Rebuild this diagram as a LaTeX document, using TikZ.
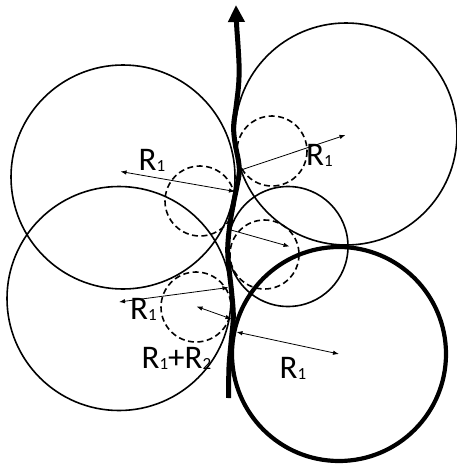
\documentclass[tikz,border=0pt]{standalone}
\usepackage{fontspec}
\setmainfont{Carlito}
\usetikzlibrary{arrows.meta}
\newcommand\lsub[1]{\raisebox{-0.04em}{\fontsize{17}{17}\selectfont #1}}
\tikzset{
  thincirc/.style={line width=1.6pt},
  thickcirc/.style={line width=4.2pt},
  dashcirc/.style={line width=1.6pt, dash pattern=on 6pt off 3.5pt},
  thickpath/.style={line width=5pt},
  radarrow/.style={line width=0.8pt},
  tip/.tip={Latex[length=6pt,width=4.5pt]},
  lbl/.style={anchor=base west, inner sep=0pt, font=\fontsize{33}{33}\selectfont}
}
\begin{document}
\begin{tikzpicture}[x=1pt,y=-1pt]
\useasboundingbox (0,0) rectangle (456,466);
% centres
\coordinate (cUL) at (123,177);
\coordinate (cLL) at (119,298.5);
\coordinate (cTR) at (346,134);
\coordinate (cMid) at (288,246.5);
\coordinate (cTh) at (339,354);
\coordinate (dA) at (272,151);
\coordinate (dB) at (200,201);
\coordinate (dC) at (264.5,254.5);
\coordinate (dD) at (196,307);
% big circles
\draw[thincirc] (cUL) circle[radius=112];
\draw[thincirc] (cLL) circle[radius=112];
\draw[thincirc] (cTR) circle[radius=111];
\draw[thincirc] (cMid) circle[radius=60];
\draw[thickcirc] (cTh) circle[radius=107];
% dashed circles
\draw[dashcirc] (dA) circle[radius=35];
\draw[dashcirc] (dB) circle[radius=35];
\draw[dashcirc] (dC) circle[radius=34.5];
\draw[dashcirc] (dD) circle[radius=35];
% thick path
\draw[thickpath, -{Triangle[length=17pt,width=16pt]}] plot[smooth, tension=0.55] coordinates {
 (228.5,398) (229,367) (231,343) (233.3,317) (231.7,293) (228.6,265) (227.7,250)
 (228.5,236) (230.5,220) (233.5,203) (236.8,187) (239.3,172) (238.3,160)
 (235,143) (233.6,126) (236.2,106) (238.6,85) (239.1,67) (238,45) (236.6,25) (236,5)};
% points on path
\coordinate (p1) at (235,191.5);
\coordinate (p2) at (241,170);
\coordinate (p3) at (231,230);
\coordinate (p4) at (228.5,287.5);
\coordinate (p5) at (231.5,319);
\coordinate (p6) at (236.5,332);
\coordinate (e1) at (120.5,171.5);
\coordinate (e4) at (119,302);
% radius arrows
\draw[radarrow, tip-tip] (e1) -- (p1);
\draw[radarrow, -tip] (p2) -- (345.5,135);
\draw[radarrow, -tip] (p3) -- (289.5,246.5);
\draw[radarrow, tip-tip] (e4) -- (p4);
\draw[radarrow, tip-tip] (196.5,306.5) -- (p5);
\draw[radarrow, tip-tip] (p6) -- (cTh);
% labels
\node[lbl] (l1) at (138.5,170.5) {R\lsub{1}};
\node[lbl] (l2) at (306,165) {R\lsub{1}};
\node[lbl] (l3) at (130,319) {R\lsub{1}};
\node[lbl] (l4) at (141.5,368) {R\lsub{1}+R\lsub{2}};
\node[lbl] (l5) at (279.5,378) {R\lsub{1}};
\end{tikzpicture}
\end{document}
